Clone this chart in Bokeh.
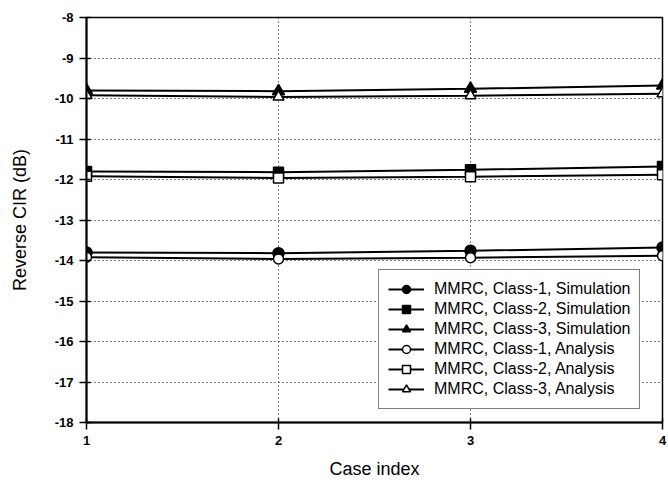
from bokeh.plotting import figure
from bokeh.models import Range1d, FixedTicker, Legend, LegendItem
from bokeh.embed import file_html
from bokeh.resources import INLINE

cases = [1, 2, 3, 4]
c1_sim = [-13.80, -13.82, -13.76, -13.68]
c2_sim = [-11.80, -11.82, -11.76, -11.68]
c3_sim = [-9.80, -9.82, -9.76, -9.68]
c1_ana = [-13.92, -13.96, -13.93, -13.88]
c2_ana = [-11.92, -11.96, -11.93, -11.88]
c3_ana = [-9.92, -9.96, -9.93, -9.88]
y_ticks = [-18, -17, -16, -15, -14, -13, -12, -11, -10, -9, -8]
y_tick_labels = ["-18", "-17", "-16", "-15", "-14", "-13", "-12", "-11", "-10", "-9", "-8"]
x_tick_labels = ["1", "2", "3", "4"]
labels = ["MMRC, Class-1, Simulation", "MMRC, Class-2, Simulation",
          "MMRC, Class-3, Simulation", "MMRC, Class-1, Analysis",
          "MMRC, Class-2, Analysis", "MMRC, Class-3, Analysis"]

FONT = "Liberation Sans"

p = figure(width=668, height=485, output_backend="svg", toolbar_location=None,
           x_range=Range1d(1, 4), y_range=Range1d(-18, -8),
           min_border_left=86, min_border_right=6, min_border_top=17,
           min_border_bottom=63)
p.background_fill_color = "white"
p.border_fill_color = "white"
p.outline_line_color = "black"
p.outline_line_width = 1.5

p.xaxis.ticker = FixedTicker(ticks=cases)
p.yaxis.ticker = FixedTicker(ticks=y_ticks)
p.xaxis.major_label_overrides = {t: s for t, s in zip(cases, x_tick_labels)}
p.yaxis.major_label_overrides = {t: s for t, s in zip(y_ticks, y_tick_labels)}
for ax in (p.xaxis[0], p.yaxis[0]):
    ax.axis_line_width = 2
    ax.axis_line_color = "black"
    ax.major_tick_line_color = "black"
    ax.major_tick_line_width = 1.5
    ax.major_tick_out = 7
    ax.major_tick_in = 4
    ax.minor_tick_line_color = None
    ax.major_label_text_font = FONT
    ax.major_label_text_font_style = "bold"
    ax.major_label_text_font_size = "13px"
    ax.major_label_text_color = "black"
    ax.axis_label_text_font = FONT
    ax.axis_label_text_font_style = "normal"
    ax.axis_label_text_font_size = "18px"
    ax.axis_label_text_color = "black"
p.xaxis.axis_label = "Case index"
p.yaxis.axis_label = "Reverse CIR (dB)"
p.xaxis.major_label_standoff = 6
p.yaxis.major_label_standoff = 6
p.xaxis.axis_label_standoff = 11
p.yaxis.axis_label_standoff = 22

for g in (p.xgrid[0], p.ygrid[0]):
    g.grid_line_color = "black"
    g.grid_line_dash = "1 3"
    g.grid_line_width = 1

series = [
    (c1_sim, "circle", "black", 11),
    (c2_sim, "square", "black", 10),
    (c3_sim, "triangle", "black", 12),
    (c1_ana, "circle", "white", 10),
    (c2_ana, "square", "white", 10),
    (c3_ana, "triangle", "white", 11),
]
items = []
for (vals, marker, fill, size), lab in zip(series, labels):
    ln = p.line(cases, vals, line_color="black", line_width=2)
    sc = p.scatter(cases, vals, marker=marker, size=size, fill_color=fill,
                   line_color="black", line_width=1.5)
    items.append(LegendItem(label=lab, renderers=[ln, sc]))

legend = Legend(items=items, location=(292, 13))
legend.border_line_color = "black"
legend.border_line_width = 1.5
legend.background_fill_color = "white"
legend.background_fill_alpha = 1
legend.label_text_font = FONT
legend.label_text_font_size = "16px"
legend.label_text_color = "black"
legend.glyph_width = 36
legend.glyph_height = 20
legend.label_height = 20
legend.label_standoff = 10
legend.spacing = 0
legend.padding = 9
legend.margin = 0
p.add_layout(legend, "center")

open("out.html", "w").write(file_html(p, INLINE))
